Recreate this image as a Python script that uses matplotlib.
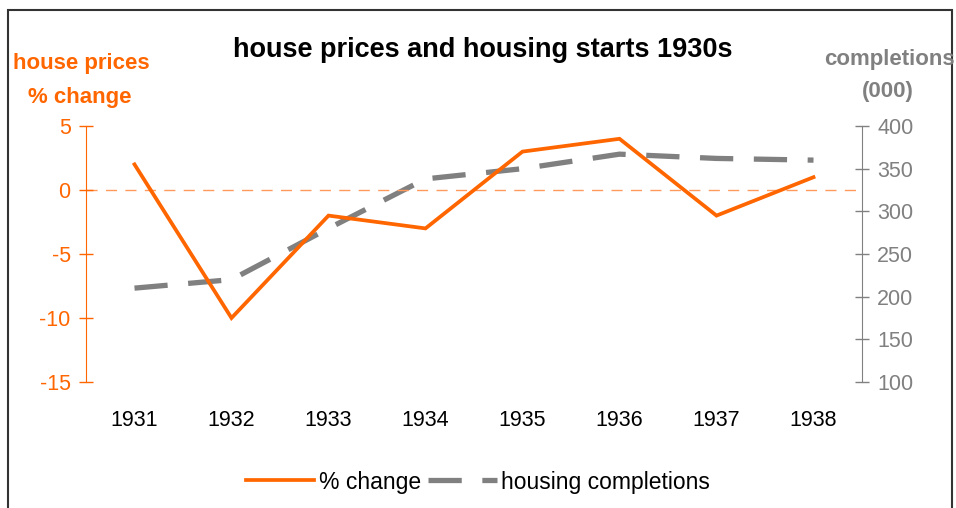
import matplotlib
matplotlib.use("Agg")
import matplotlib.pyplot as plt
from matplotlib.patches import Rectangle

plt.rcParams['font.family'] = ['Liberation Sans', 'DejaVu Sans']
plt.rcParams['axes.unicode_minus'] = False

# --- data ---
years = ['1931', '1932', '1933', '1934', '1935', '1936', '1937', '1938']
price_change = [2, -10, -2, -3, 3, 4, -2, 1]
completions = [210, 220, 280, 338, 350, 367, 362, 360]

left_ticks = [5, 0, -5, -10, -15]
right_ticks = [400, 350, 300, 250, 200, 150, 100]

ORANGE = '#FF6600'
ORANGE_LIGHT = '#FF9A5C'
GREY = '#808080'

fig = plt.figure(figsize=(9.56, 5.08), dpi=100)
ax = fig.add_axes([86 / 956, 1 - 382 / 508, (862 - 86) / 956, (382 - 126) / 508])
ax2 = ax.twinx()

x = list(range(len(years)))

# orange on top of the grey dashes
ax.set_zorder(ax2.get_zorder() + 1)
ax.patch.set_visible(False)

ax.axhline(0, color=ORANGE_LIGHT, lw=1, linestyle=(0, (8, 6)), zorder=1)
l1, = ax.plot(x, price_change, color=ORANGE, lw=2.7, solid_joinstyle='miter', zorder=3)
l2, = ax2.plot(x, completions, color=GREY, lw=3.8, linestyle=(0, (6.3, 3.9)),
               dash_capstyle='butt', zorder=2)

ax.set_xlim(-0.5, len(years) - 0.5)
ax.set_ylim(-15, 5)
ax2.set_ylim(100, 400)
ax.set_yticks(left_ticks)
ax2.set_yticks(right_ticks)
ax.set_xticks(x)
ax.set_xticklabels(years)

for a in (ax, ax2):
    for s in ('top', 'bottom'):
        a.spines[s].set_visible(False)
ax.spines['right'].set_visible(False)
ax2.spines['left'].set_visible(False)
ax.spines['left'].set_color(ORANGE)
ax2.spines['right'].set_color(GREY)

ax.tick_params(axis='y', direction='inout', length=10, width=1, color=ORANGE,
               labelcolor=ORANGE, labelsize=15.5, pad=6)
ax2.tick_params(axis='y', direction='inout', length=10, width=1, color=GREY,
                labelcolor=GREY, labelsize=15.5, pad=6)
ax.tick_params(axis='x', length=0, labelsize=15.5, pad=20, labelcolor='black')

# titles and axis captions
fig.text(483 / 956, 1 - 50 / 508, 'house prices and housing starts 1930s',
         ha='center', va='center', fontsize=19.5, fontweight='bold', color='black')
fig.text(81 / 956, 1 - 64 / 508, 'house prices', ha='center', va='center',
         fontsize=16, fontweight='bold', color=ORANGE)
fig.text(80 / 956, 1 - 98 / 508, '% change', ha='center', va='center',
         fontsize=16, fontweight='bold', color=ORANGE)
fig.text(889 / 956, 1 - 59 / 508, 'completions', ha='center', va='center',
         fontsize=16, fontweight='bold', color=GREY)
fig.text(888 / 956, 1 - 92 / 508, '(000)', ha='center', va='center',
         fontsize=16, fontweight='bold', color=GREY)

fig.legend([l1, l2], ['% change', 'housing completions'], loc='center',
           bbox_to_anchor=(478 / 956, 1 - 482 / 508), ncol=2, frameon=False,
           fontsize=16.5, handlelength=3.0, handletextpad=0.2, columnspacing=0.3)

# outer frame (open at the bottom, as in the reference)
fig.patches.append(Rectangle((8 / 956, -0.05), (952 - 8) / 956, 1.05 - 10 / 508,
                             transform=fig.transFigure, fill=False,
                             edgecolor='#333333', lw=1.5))

fig.savefig('out.png', dpi=100)
